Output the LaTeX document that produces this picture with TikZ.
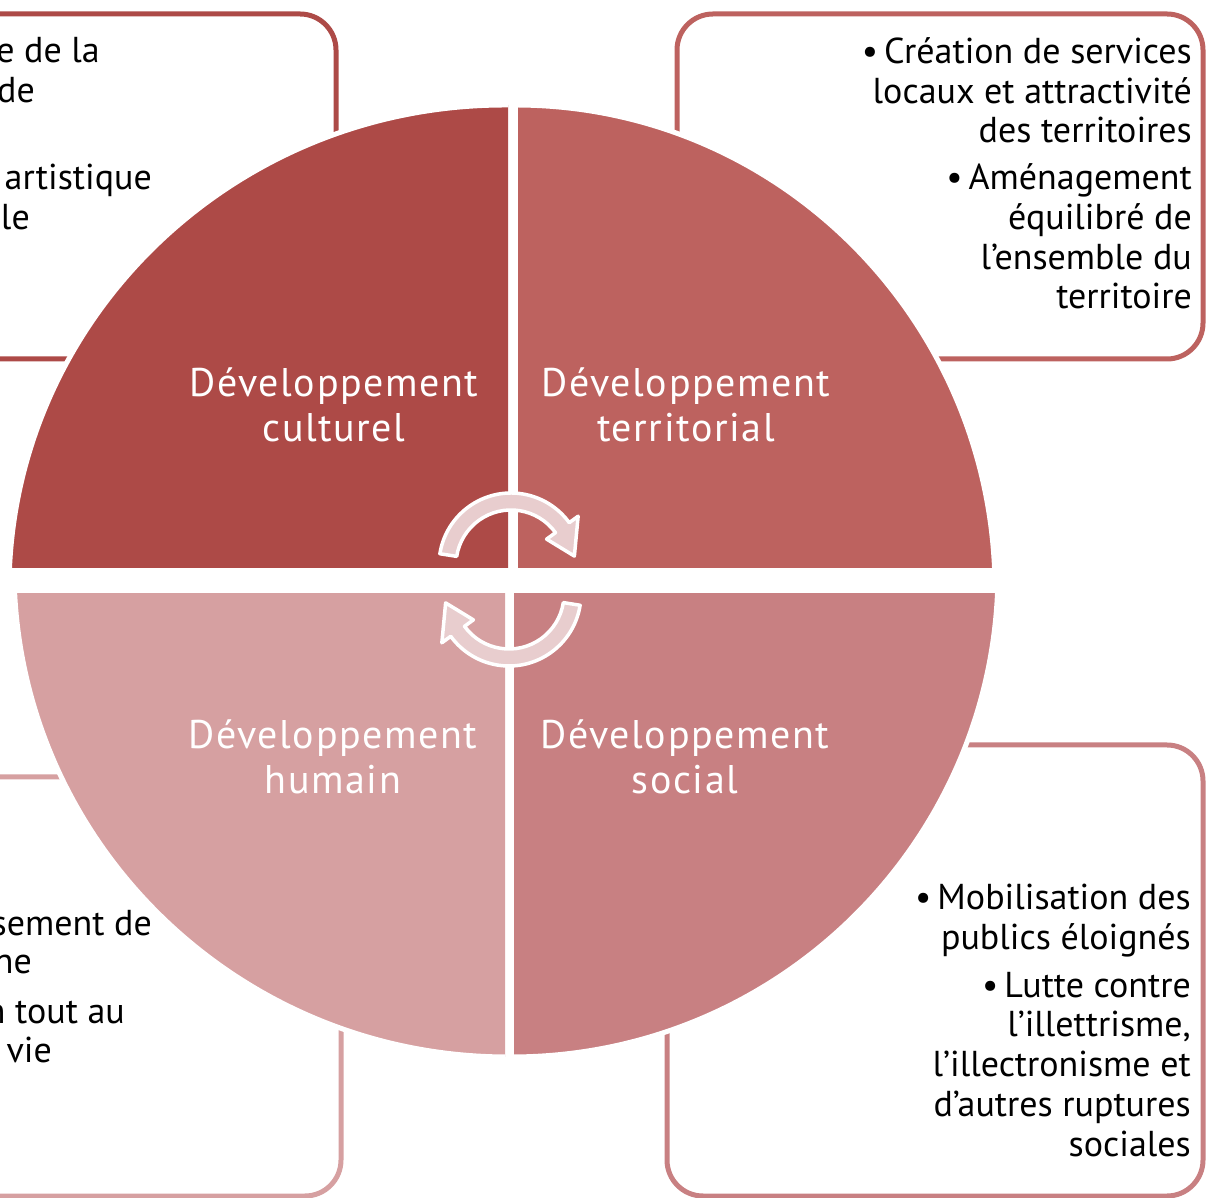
\documentclass[tikz,border=0pt]{standalone}
\usepackage{fontspec}
\setmainfont{PT Sans}
\definecolor{culture}{HTML}{AD4A47}
\definecolor{terri}{HTML}{BD625F}
\definecolor{humain}{HTML}{D6A0A1}
\definecolor{sociale}{HTML}{C88082}
\definecolor{flow}{HTML}{E8CDCE}
\tikzset{
  boxline/.style={line width=5pt, rounded corners=36pt},
  quadedge/.style={draw=white, line width=5pt},
  quadtxt/.style={text=white, align=center, inner sep=0pt,
    font=\fontsize{40}{45}\selectfont\addfontfeatures{LetterSpace=4}},
  boxtxt/.style={font=\fontsize{36}{40}\selectfont, inner sep=0pt, anchor=base east},
  cycarrow/.pic={
    \filldraw[fill=flow, draw=white, line width=3.5pt, line join=round]
      (171:72) arc[start angle=171, end angle=36, radius=72]
      -- (36:83) -- (8:64) -- (36:44) -- (36:55)
      arc[start angle=36, end angle=171, radius=55] -- cycle;
  }
}

\begin{document}
\begin{tikzpicture}[x=1pt, y=1pt]
    \useasboundingbox (0,0) rectangle (1207,1197);
    \clip (0,0) rectangle (1207,1197);
    % boxes behind the disc
    \draw[boxline, culture] (-400,838) rectangle (336,1183);
    \draw[boxline, terri] (677,838) rectangle (1203,1183);
    \draw[boxline, humain] (-400,1) rectangle (341,420);
    \draw[boxline, sociale] (667,1) rectangle (1203,452);
    % the four quarters
    \foreach \col/\cx/\cy/\rx/\ry/\xa/\ya/\xb/\yb in {
        culture/505/607/496/485/-20/629/508/1220,
        terri/515/607/480/485/518/629/1220/1220,
        humain/508/629/494/489/-20/-20/505/603,
        sociale/511/626/487/486/514/-20/1220/603}{
      \begin{scope}
        \clip (\xa,\ya) rectangle (\xb,\yb);
        \filldraw[fill=\col, quadedge] (\cx,\cy) ellipse [x radius=\rx, y radius=\ry];
      \end{scope}
    }
    \node[quadtxt] (cult) at (334,792) {Développement\\culturel};
    \node[quadtxt] (terr) at (686,792) {Développement\\territorial};
    \node[quadtxt] (hum) at (333,440) {Développement\\humain};
    \node[quadtxt] (soc) at (685,440) {Développement\\social};
    % turning arrows
    \pic (loopa) at (511,632) {cycarrow};
    \pic[rotate=180] (loopb) at (509,603) {cycarrow};
    % box texts
    \foreach \xx/\yy/\txt [count=\i] in {100/1134/e de la, 35/1094/de,
        152/1007/artistique, 30/967/le}
      \node[boxtxt] (tl\i) at (\xx,\yy) {\txt};
    \foreach \yy/\txt [count=\i] in {1133/\textbullet\,Création de services,
        1093/locaux et attractivité, 1054/des territoires,
        1007/\textbullet\,Aménagement, 967/équilibré de,
        927/l’ensemble du, 888/territoire}
      \node[boxtxt] (tr\i) at (1192,\yy) {\txt};
    \foreach \xx/\yy/\txt [count=\i] in {152/261/sement de, 32/223/ne,
        125/174/n tout au, 52/135/vie}
      \node[boxtxt] (bl\i) at (\xx,\yy) {\txt};
    \foreach \yy/\txt [count=\i] in {287/\textbullet\,Mobilisation des,
        247/publics éloignés, 200/\textbullet\,Lutte contre,
        161/{l’illettrisme,}, 121/l’illectronisme et,
        81/d’autres ruptures, 41/sociales}
      \node[boxtxt] (br\i) at (1191,\yy) {\txt};
\end{tikzpicture}
\end{document}
